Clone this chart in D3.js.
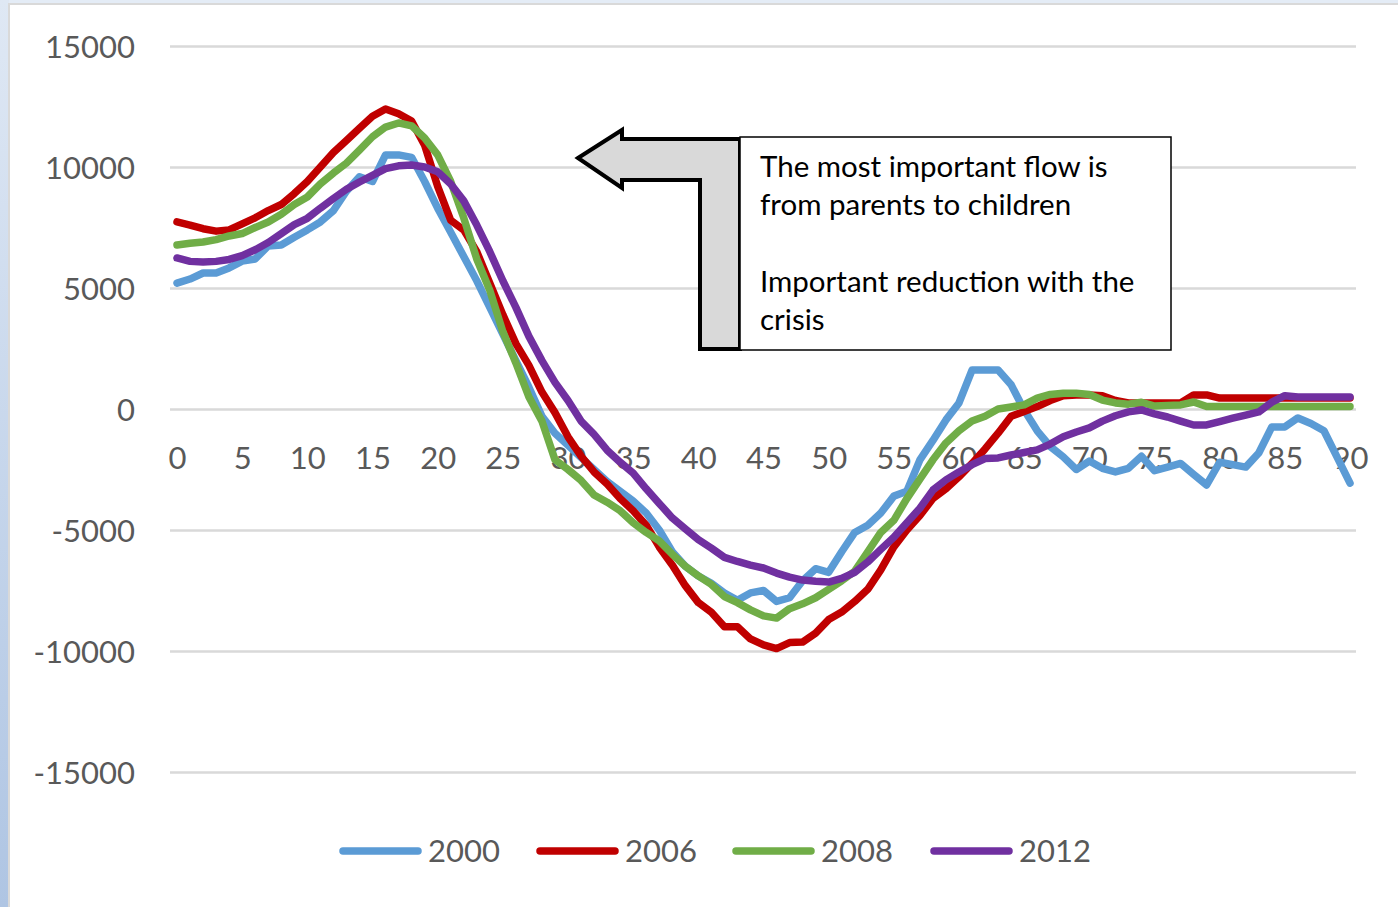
<!DOCTYPE html>
<html>
<head>
<meta charset="utf-8">
<script src="https://cdn.jsdelivr.net/npm/d3@7"></script>
<style>
  html, body { margin: 0; padding: 0; background: #e4ecf6; }
  svg { display: block; }
  text { font-family: Lato, "Open Sans", sans-serif; }
</style>
</head>
<body>
<svg id="chart" width="1398" height="907"></svg>
<script>
// Ages on the horizontal axis
const ages = d3.range(0, 91);
const xTicks = d3.range(0, 91, 5);
const yTicks = [-15000, -10000, -5000, 0, 5000, 10000, 15000];

// Net transfer by age, one array per year
const series2000 = [
  5200, 5370, 5620, 5620, 5830, 6110, 6200, 6740, 6780, 7100,
  7400, 7730, 8200, 9000, 9600, 9400, 10500, 10500, 10400, 9400,
  8300, 7300, 6300, 5300, 4200, 3100, 2000, 900, -300, -1000,
  -1500, -2000, -2500, -3000, -3400, -3800, -4300, -5000, -5900, -6500,
  -6900, -7200, -7600, -7900, -7600, -7500, -7950, -7800, -7100, -6600,
  -6750, -5900, -5100, -4800, -4300, -3600, -3400, -2100, -1300, -450,
  250, 1610, 1610, 1610, 1000, -40, -900, -1550, -1980, -2500,
  -2150, -2450, -2600, -2450, -1950, -2550, -2400, -2250, -2700, -3140,
  -2200, -2300, -2400, -1820, -740, -740, -370, -600, -900, -1980,
  -3060
];
const series2006 = [
  7730, 7600, 7450, 7350, 7400, 7650, 7900, 8200, 8450, 8900,
  9400, 10000, 10600, 11100, 11600, 12100, 12400, 12200, 11900, 10900,
  9200, 7800, 7400, 6500, 5200, 3900, 2700, 1800, 700, -150,
  -1150, -1950, -2600, -3100, -3700, -4200, -4800, -5700, -6450, -7300,
  -8000, -8400, -9000, -9000, -9500, -9750, -9900, -9650, -9630, -9260,
  -8700, -8390, -7950, -7450, -6650, -5700, -5000, -4400, -3700, -3300,
  -2800, -2250, -1650, -1000, -300, -100, 100, 350, 550, 580,
  580, 550, 350, 250, 250, 250, 250, 250, 580, 580,
  450, 450, 450, 450, 450, 450, 450, 450, 450, 450,
  450
];
const series2008 = [
  6780, 6850, 6900, 7000, 7150, 7250, 7500, 7730, 8050, 8450,
  8760, 9300, 9750, 10160, 10700, 11250, 11650, 11820, 11700, 11200,
  10500, 9400, 7900, 6200, 4900, 3200, 1900, 500, -500, -2100,
  -2500, -2950, -3550, -3850, -4200, -4700, -5100, -5450, -6000, -6500,
  -6900, -7250, -7750, -8000, -8300, -8550, -8640, -8250, -8050, -7800,
  -7450, -7100, -6700, -5900, -5100, -4600, -3700, -2900, -2100, -1400,
  -900, -500, -300, 0, 80, 170, 450, 600, 650, 650,
  600, 370, 250, 200, 280, 120, 150, 170, 290, 100,
  100, 100, 100, 100, 100, 100, 100, 100, 100, 100,
  100
];
const series2012 = [
  6240, 6100, 6070, 6100, 6180, 6340, 6580, 6880, 7250, 7620,
  7880, 8300, 8700, 9080, 9380, 9650, 9930, 10050, 10080, 10000,
  9800, 9300, 8600, 7600, 6500, 5300, 4200, 3000, 2000, 1100,
  350, -500, -1050, -1700, -2200, -2650, -3300, -3900, -4500, -4950,
  -5400, -5750, -6130, -6300, -6450, -6570, -6780, -6950, -7070, -7120,
  -7150, -7000, -6750, -6320, -5800, -5300, -4700, -4100, -3350, -2930,
  -2600, -2300, -2050, -2020, -1900, -1800, -1690, -1450, -1150, -950,
  -780, -500, -280, -120, -40, -200, -330, -500, -660, -660,
  -520, -380, -250, -120, 280, 550, 500, 500, 500, 500,
  500
];

const seriesNames = ["2000", "2006", "2008", "2012"];
const seriesValues = [series2000, series2006, series2008, series2012];
const seriesColors = ["#5b9bd5", "#c00000", "#70ad47", "#7030a0"];

const noteLines = [
  "The most important flow is",
  "from parents to children",
  "",
  "Important reduction with the",
  "crisis"
];

const svg = d3.select("#chart");
const W = 1398, H = 907;

// Page backdrop and chart frame
const defs = svg.append("defs");
const lg = defs.append("linearGradient").attr("id", "edge").attr("x1", 0).attr("y1", 0).attr("x2", 0).attr("y2", 1);
lg.append("stop").attr("offset", "0%").attr("stop-color", "#dfe8f4");
lg.append("stop").attr("offset", "100%").attr("stop-color", "#afc5e3");
svg.append("rect").attr("width", W).attr("height", H).attr("fill", "#e4ecf6");
svg.append("rect").attr("x", 0).attr("y", 0).attr("width", 9).attr("height", H).attr("fill", "url(#edge)");
svg.append("rect").attr("x", 9).attr("y", 4).attr("width", W).attr("height", H)
  .attr("fill", "#ffffff").attr("stroke", "#d9d9d9").attr("stroke-width", 2);

const x = d3.scaleLinear().domain([0, 90]).range([177, 1350]);
const y = d3.scaleLinear().domain([-15000, 15000]).range([772, 46]);

// Horizontal gridlines
const grid = svg.append("g").attr("transform", "translate(170,0)")
  .call(d3.axisLeft(y).tickValues(yTicks).tickSize(-1186).tickFormat(""));
grid.select(".domain").remove();
grid.selectAll(".tick line").attr("stroke", "#d9d9d9").attr("stroke-width", 2.5);

// Y tick labels (plain hyphen for negatives)
const yAxis = svg.append("g").attr("transform", "translate(135,0)")
  .call(d3.axisLeft(y).tickValues(yTicks).tickSize(0).tickPadding(0).tickFormat(d => String(d)));
yAxis.select(".domain").remove();
yAxis.selectAll("text").attr("fill", "#595959").style("font-size", "31px")
  .attr("font-family", "Lato, sans-serif").attr("dy", "0.36em");

// X tick labels sitting under the zero line
const xAxis = svg.append("g").attr("transform", `translate(0,${y(0)})`)
  .call(d3.axisBottom(x).tickValues(xTicks).tickSize(0).tickPadding(0));
xAxis.select(".domain").remove();
xAxis.selectAll("text").attr("fill", "#595959").style("font-size", "31px")
  .attr("font-family", "Lato, sans-serif").attr("dy", "1.92em");

// Lines
const line = d3.line().x((d, i) => x(ages[i])).y(d => y(d)).curve(d3.curveLinear);
svg.append("g").selectAll("path").data(seriesValues).join("path")
  .attr("d", line)
  .attr("fill", "none")
  .attr("stroke", (d, i) => seriesColors[i])
  .attr("stroke-width", 7.5)
  .attr("stroke-linejoin", "round")
  .attr("stroke-linecap", "round");

// Callout: bent arrow pointing left, and its text box
const arrow = d3.path();
arrow.moveTo(578, 158);
arrow.lineTo(622, 130);
arrow.lineTo(622, 139);
arrow.lineTo(740, 139);
arrow.lineTo(740, 349);
arrow.lineTo(700, 349);
arrow.lineTo(700, 180);
arrow.lineTo(622, 180);
arrow.lineTo(622, 188);
arrow.closePath();
svg.append("path").attr("d", arrow.toString())
  .attr("fill", "#d9d9d9").attr("stroke", "#000").attr("stroke-width", 4).attr("stroke-linejoin", "miter");

svg.append("rect").attr("x", 740).attr("y", 137).attr("width", 431).attr("height", 213)
  .attr("fill", "#fff").attr("stroke", "#000").attr("stroke-width", 1.5);

const note = svg.append("text").attr("x", 760).attr("y", 177)
  .attr("fill", "#000").style("font-size", "29.5px");
noteLines.forEach((t, i) => {
  note.append("tspan").attr("x", 760).attr("y", 177 + i * 38.2).text(t);
});

// Legend
const legendX = [343, 540, 736, 934];
const legend = svg.append("g").selectAll("g").data(seriesNames).join("g")
  .attr("transform", (d, i) => `translate(${legendX[i]},851)`);
legend.append("line").attr("x1", 0).attr("x2", 75).attr("y1", 0).attr("y2", 0)
  .attr("stroke", (d, i) => seriesColors[i]).attr("stroke-width", 7.5).attr("stroke-linecap", "round");
legend.append("text").attr("x", 85).attr("y", 0).attr("dy", "0.36em")
  .attr("fill", "#595959").style("font-size", "31px").text(d => d);
</script>
</body>
</html>
